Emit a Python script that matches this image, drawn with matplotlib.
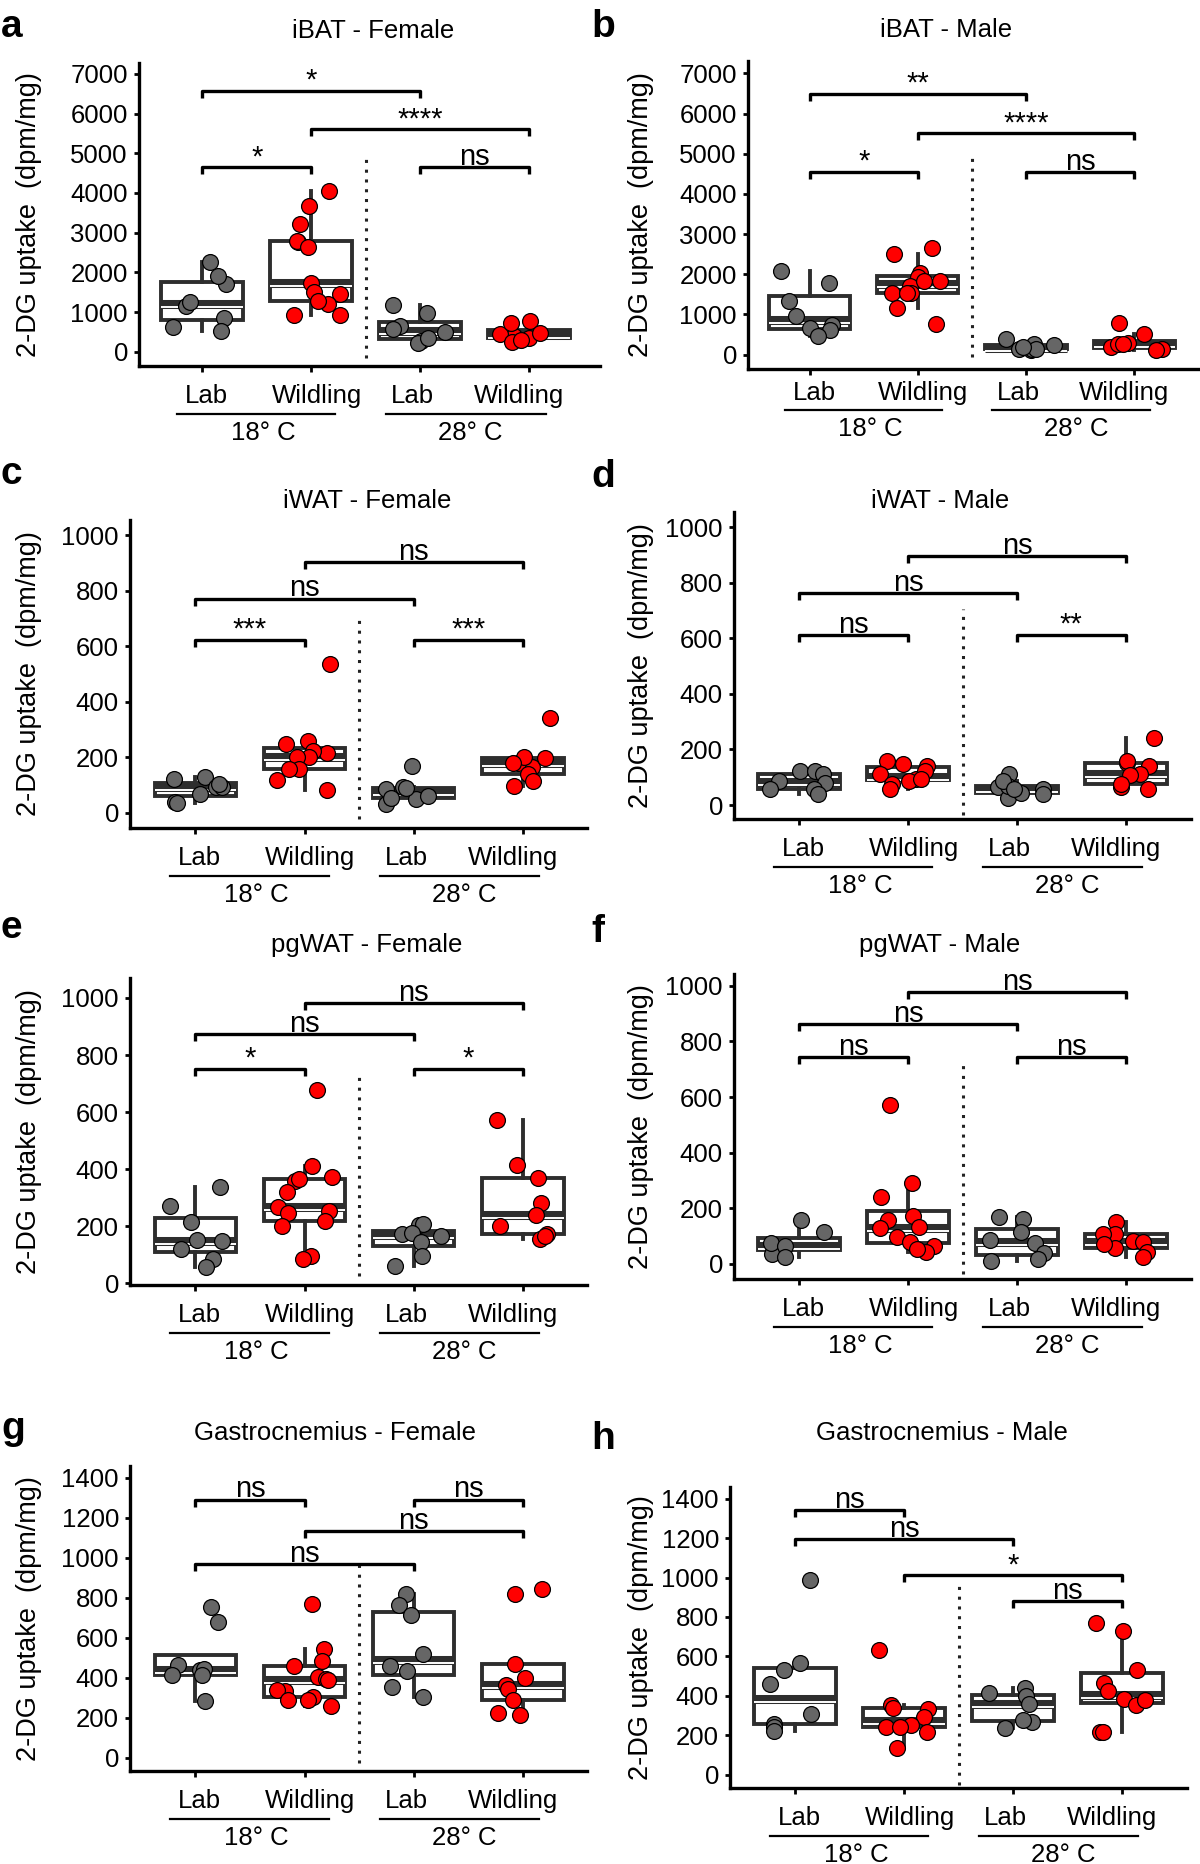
import numpy as np
import matplotlib
matplotlib.use('Agg')
import matplotlib.pyplot as plt
from matplotlib.transforms import blended_transform_factory, ScaledTranslation

plt.rcParams['font.family'] = ['Liberation Sans', 'DejaVu Sans']

W, H, DPI = 1200, 1864, 100

# ---------------- data ----------------
groups = ['Lab', 'Wildling', 'Lab', 'Wildling']
temps = ['18° C', '28° C']
ylabel = '2-DG uptake  (dpm/mg)'

a_title = 'iBAT - Female'
a_lab18 = [2253, 1710, 1911, 1160, 1243, 851, 617, 517]
a_wild18 = [4038, 3671, 3212, 2753, 2795, 2645, 1727, 1518, 1460, 1210, 1268, 934, 934]
a_lab28 = [659, 976, 1168, 576, 267, 225, 492, 350]
a_wild28 = [784, 350, 409, 451, 726, 476, 242, 292]
a_sig = [(1, 3, 6566, '*'), (2, 4, 5607, '****'), (1, 2, 4647, '*'), (3, 4, 4647, 'ns')]

b_title = 'iBAT - Male'
b_lab18 = [2087, 1777, 1341, 964, 746, 662, 604, 453]
b_wild18 = [2641, 2515, 2029, 1920, 1819, 1719, 1836, 1526, 1526, 1542, 1165, 771]
b_lab28 = [143, 226, 101, 126, 268, 143, 394, 184]
b_wild28 = [796, 293, 184, 143, 251, 503, 251, 101]
b_sig = [(1, 3, 6488, '**'), (2, 4, 5508, '****'), (1, 2, 4544, '*'), (3, 4, 4544, 'ns')]

c_title = 'iWAT - Female'
c_lab18 = [127, 121, 93, 91, 103, 67, 40, 36]
c_wild18 = [537, 257, 246, 215, 222, 200, 200, 158, 158, 118, 81]
c_lab28 = [170, 51, 91, 61, 30, 88, 85, 52]
c_wild28 = [342, 166, 178, 202, 198, 178, 139, 113, 97]
c_sig = [(2, 4, 905, 'ns'), (1, 3, 772, 'ns'), (1, 2, 624, '***'), (3, 4, 624, '***')]

d_title = 'iWAT - Male'
d_lab18 = [123, 121, 111, 87, 81, 57, 57, 39]
d_wild18 = [160, 148, 141, 111, 93, 123, 87, 93, 75, 57]
d_lab28 = [111, 65, 27, 57, 45, 69, 87, 41, 57]
d_wild28 = [242, 150, 160, 141, 111, 108, 66, 57, 75]
d_sig = [(2, 4, 895, 'ns'), (1, 3, 764, 'ns'), (1, 2, 613, 'ns'), (3, 4, 613, '**')]

e_title = 'pgWAT - Female'
e_lab18 = [338, 271, 214, 151, 147, 120, 85, 56]
e_wild18 = [676, 412, 374, 359, 367, 320, 268, 247, 253, 220, 200, 94, 85]
e_lab28 = [206, 208, 171, 165, 176, 143, 96, 59]
e_wild28 = [573, 414, 370, 280, 239, 200, 171, 155, 165]
e_sig = [(2, 4, 982, 'ns'), (1, 3, 873, 'ns'), (1, 2, 751, '*'), (3, 4, 751, '*')]

f_title = 'pgWAT - Male'
f_lab18 = [159, 114, 63, 36, 74, 66, 24]
f_wild18 = [571, 291, 240, 174, 158, 134, 128, 98, 66, 78, 44, 54]
f_lab28 = [162, 170, 114, 87, 74, 38, 18, 12]
f_wild28 = [152, 108, 108, 84, 78, 56, 44, 26, 72]
f_sig = [(2, 4, 976, 'ns'), (1, 3, 862, 'ns'), (1, 2, 745, 'ns'), (3, 4, 745, 'ns')]

g_title = 'Gastrocnemius - Female'
g_lab18 = [755, 676, 461, 436, 444, 414, 414, 282]
g_wild18 = [771, 545, 483, 456, 402, 391, 386, 335, 340, 302, 288, 288, 260]
g_lab28 = [818, 763, 716, 520, 456, 431, 355, 305]
g_wild28 = [842, 817, 466, 397, 361, 344, 288, 213, 223]
g_sig = [(1, 2, 1291, 'ns'), (3, 4, 1291, 'ns'), (2, 4, 1132, 'ns'), (1, 3, 969, 'ns')]

h_title = 'Gastrocnemius - Male'
h_lab18 = [989, 567, 532, 458, 307, 260, 243, 223]
h_wild18 = [632, 335, 352, 339, 293, 252, 240, 240, 218, 134]
h_lab28 = [441, 414, 399, 361, 268, 280, 235]
h_wild28 = [771, 729, 532, 465, 424, 382, 355, 381, 218, 218]
h_sig = [(1, 2, 1341, 'ns'), (1, 3, 1195, 'ns'), (2, 4, 1011, '*'), (3, 4, 880, 'ns')]

# ---------------- layout (pixels) ----------------
panels = [
    dict(letter='a', title=a_title, data=[a_lab18, a_wild18, a_lab28, a_wild28], sig=a_sig,
         box=(139, 600, 63, 366), ylim=(-359, 7275), yt=(7000, 1000), xlim=(0.42, 4.65),
         dots=(-150, 4940), tpos=(373, 38), lpos=(1, 37), ylx=29, offs=(37, 48, 74)),
    dict(letter='b', title=b_title, data=[b_lab18, b_wild18, b_lab28, b_wild28], sig=b_sig,
         box=(748, 1198, 61, 369), ylim=(-360, 7310), yt=(7000, 1000), xlim=(0.43, 4.59),
         dots=(-67, 5044), tpos=(946, 37), lpos=(591, 37), ylx=641, offs=(31, 41, 67)),
    dict(letter='c', title=c_title, data=[c_lab18, c_wild18, c_lab28, c_wild28], sig=c_sig,
         box=(130, 587, 520, 828), ylim=(-55, 1055), yt=(1000, 200), xlim=(0.40, 4.59),
         dots=(-24, 715), tpos=(367, 508), lpos=(1, 484), ylx=29, offs=(37, 48, 74)),
    dict(letter='d', title=d_title, data=[d_lab18, d_wild18, d_lab28, d_wild28], sig=d_sig,
         box=(734, 1191, 512, 819), ylim=(-50, 1054), yt=(1000, 200), xlim=(0.40, 4.60),
         dots=(-34, 704), tpos=(940, 508), lpos=(591, 487), ylx=641, offs=(37, 48, 74)),
    dict(letter='e', title=e_title, data=[e_lab18, e_wild18, e_lab28, e_wild28], sig=e_sig,
         box=(130, 587, 978, 1285), ylim=(-6, 1070), yt=(1000, 200), xlim=(0.40, 4.59),
         dots=(24, 741), tpos=(367, 952), lpos=(1, 938), ylx=29, offs=(37, 48, 74)),
    dict(letter='f', title=f_title, data=[f_lab18, f_wild18, f_lab28, f_wild28], sig=f_sig,
         box=(734, 1191, 974, 1279), ylim=(-54, 1042), yt=(1000, 200), xlim=(0.40, 4.60),
         dots=(-36, 731), tpos=(940, 952), lpos=(591, 942), ylx=641, offs=(37, 48, 74)),
    dict(letter='g', title=g_title, data=[g_lab18, g_wild18, g_lab28, g_wild28], sig=g_sig,
         box=(130, 587, 1466, 1771), ylim=(-67, 1459), yt=(1400, 200), xlim=(0.40, 4.59),
         dots=(-25, 989), tpos=(335, 1440), lpos=(1, 1439), ylx=29, offs=(37, 48, 74)),
    dict(letter='h', title=h_title, data=[h_lab18, h_wild18, h_lab28, h_wild28], sig=h_sig,
         box=(730, 1187, 1487, 1788), ylim=(-67, 1459), yt=(1400, 200), xlim=(0.40, 4.60),
         dots=(-50, 972), tpos=(942, 1440), lpos=(591, 1449), ylx=641, offs=(37, 48, 74)),
]

group_colors = ['#666666', '#ff0000', '#666666', '#ff0000']
label_x = [1.04, 2.05, 2.93, 3.91]
temp_lines = [(0.77, 2.22), (2.69, 4.15)]
temp_x = [1.56, 3.46]
BOXC = '#2e2e2e'
FS = 18.5

fig = plt.figure(figsize=(W / DPI, H / DPI), dpi=DPI)
rng = np.random.default_rng(7)

for p in panels:
    l, r, t, b = p['box']
    ax = fig.add_axes([l / W, 1 - b / H, (r - l) / W, (b - t) / H])
    ax.set_xlim(*p['xlim'])
    ax.set_ylim(*p['ylim'])
    px_per_unit = (b - t) / (p['ylim'][1] - p['ylim'][0])

    bp = ax.boxplot(p['data'], positions=[1, 2, 3, 4], widths=0.75, patch_artist=True,
                    showfliers=False, showcaps=False, whis=1.5,
                    boxprops=dict(facecolor='white', edgecolor=BOXC, linewidth=2.8),
                    whiskerprops=dict(color=BOXC, linewidth=2.8),
                    medianprops=dict(color=BOXC, linewidth=6.5, solid_capstyle='butt'),
                    zorder=2)
    for med in bp['medians']:
        off = 3.0 / px_per_unit
        ax.plot(med.get_xdata(), np.asarray(med.get_ydata()) - off, color='white', lw=1.4,
                solid_capstyle='butt', zorder=2.5)

    for i, vals in enumerate(p['data']):
        xs = (i + 1) + rng.uniform(-0.27, 0.27, len(vals))
        ax.scatter(xs, vals, s=130, c=group_colors[i], edgecolors='black', linewidths=0.9, zorder=4)

    # dotted separator
    ax.plot([2.5, 2.5], p['dots'], color='#222222', lw=2.2, ls=(0, (1, 2.2)), zorder=1)

    # significance brackets
    tick = 7 / px_per_unit
    for x1, x2, y, lab in p['sig']:
        ax.plot([x1, x1, x2, x2], [y - tick, y, y, y - tick], color='black', lw=2.4,
                solid_capstyle='butt', zorder=5, clip_on=False)
        ax.annotate(lab, xy=((x1 + x2) / 2, y), xytext=(0, 1.5), textcoords='offset points',
                    ha='center', va='baseline', fontsize=21, zorder=6)

    # axes styling
    for s in ['top', 'right']:
        ax.spines[s].set_visible(False)
    for s in ['left', 'bottom']:
        ax.spines[s].set_linewidth(2.4)
    ymax, ystep = p['yt']
    ax.set_yticks(np.arange(0, ymax + 1, ystep))
    ax.tick_params(axis='y', labelsize=FS, length=3.5, width=2, pad=4.5)
    ax.set_xticks([1, 2, 3, 4])
    ax.set_xticklabels([])
    ax.tick_params(axis='x', length=4, width=2)

    o1, o2, o3 = p['offs']
    base = blended_transform_factory(ax.transData, ax.transAxes)
    tr1 = base + ScaledTranslation(0, -o1 / DPI, fig.dpi_scale_trans)
    tr2 = base + ScaledTranslation(0, -o2 / DPI, fig.dpi_scale_trans)
    tr3 = base + ScaledTranslation(0, -o3 / DPI, fig.dpi_scale_trans)
    for xx, g in zip(label_x, groups):
        ax.text(xx, 0, g, transform=tr1, ha='center', va='baseline', fontsize=FS)
    for (xa, xb), xx, tt in zip(temp_lines, temp_x, temps):
        ax.plot([xa, xb], [0, 0], transform=tr2, color='black', lw=1.6, clip_on=False)
        ax.text(xx, 0, tt, transform=tr3, ha='center', va='baseline', fontsize=FS)

    # title, letter, ylabel
    fig.text(p['tpos'][0] / W, 1 - p['tpos'][1] / H, p['title'], ha='center', va='baseline', fontsize=FS)
    fig.text(p['lpos'][0] / W, 1 - p['lpos'][1] / H, p['letter'], ha='left', va='baseline',
             fontsize=28, fontweight='bold')
    fig.text(p['ylx'] / W, 1 - ((t + b) / 2) / H, ylabel, rotation=90, ha='center', va='center',
             fontsize=19.5)

fig.savefig('out.png', dpi=DPI)
